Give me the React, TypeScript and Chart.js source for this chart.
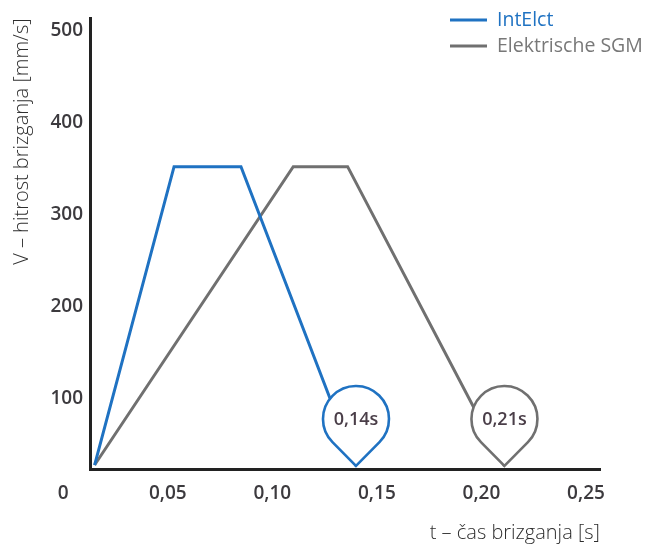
import { useEffect, useRef } from 'react';
import { Chart, registerables } from 'chart.js';

Chart.register(...registerables);

// ---- data ----
const seriesNames = ['IntElct', 'Elektrische SGM'];
const seriesColors = ['#1f72c2', '#707070'];
const legendTextColors = ['#1f72c2', '#787878'];
const intelctT = [0.015, 0.053, 0.085, 0.14];
const intelctV = [28, 352, 352, 27];
const sgmT = [0.015, 0.11, 0.136, 0.211];
const sgmV = [28, 352, 352, 27];
const pinLabels = ['0,14s', '0,21s'];
const xTickValues = [0, 0.05, 0.1, 0.15, 0.2, 0.25];
const xTickLabels = ['0', '0,05', '0,10', '0,15', '0,20', '0,25'];
const yTickValues = [100, 200, 300, 400, 500];
const xRange = [0.0128, 0.2567];
const yRange = [23.7, 513];
const xTitle = 't – čas brizganja [s]';
const yTitle = 'V – hitrost brizganja [mm/s]';

const FONT = '"Open Sans", sans-serif';

const pinPlugin = {
  id: 'pins',
  afterDatasetsDraw(chart: any) {
    const ctx = chart.ctx as CanvasRenderingContext2D;
    chart.data.datasets.forEach((ds: any, i: number) => {
      const meta = chart.getDatasetMeta(i);
      const pt = meta.data[meta.data.length - 1];
      const tipX = pt.x;
      const tipY = pt.y;
      const r = 33;
      const d = 47;
      const cx = tipX;
      const cy = tipY - d;
      const a = Math.acos(r / d);
      ctx.save();
      ctx.beginPath();
      ctx.moveTo(tipX, tipY);
      ctx.arc(cx, cy, r, Math.PI / 2 - a, Math.PI / 2 + a, true);
      ctx.closePath();
      ctx.fillStyle = '#ffffff';
      ctx.fill();
      ctx.lineWidth = 2.6;
      ctx.strokeStyle = ds.borderColor;
      ctx.stroke();
      ctx.fillStyle = '#4a3e48';
      ctx.font = `600 18px ${FONT}`;
      ctx.textAlign = 'center';
      ctx.textBaseline = 'middle';
      ctx.fillText(pinLabels[i], cx, cy + 1);
      ctx.restore();
    });
  },
};

const legendPlugin = {
  id: 'cornerLegend',
  afterDraw(chart: any) {
    const ctx = chart.ctx as CanvasRenderingContext2D;
    const x0 = chart.width - 195;
    chart.data.datasets.forEach((ds: any, i: number) => {
      const y = 20 + i * 26;
      ctx.save();
      ctx.strokeStyle = ds.borderColor;
      ctx.lineWidth = 3;
      ctx.beginPath();
      ctx.moveTo(x0, y);
      ctx.lineTo(x0 + 37, y);
      ctx.stroke();
      ctx.fillStyle = legendTextColors[i];
      ctx.font = `400 19.5px ${FONT}`;
      ctx.textAlign = 'left';
      ctx.textBaseline = 'middle';
      ctx.fillText(ds.label, x0 + 47, y);
      ctx.restore();
    });
  },
};

export default function App() {
  const ref = useRef<HTMLCanvasElement>(null);

  useEffect(() => {
    if (!ref.current) return;
    const toPts = (t: number[], v: number[]) => t.map((x, k) => ({ x, y: v[k] }));
    const chart = new Chart(ref.current, {
      type: 'line',
      data: {
        datasets: [
          {
            label: seriesNames[0],
            data: toPts(intelctT, intelctV),
            borderColor: seriesColors[0],
            borderWidth: 3,
            pointRadius: 0,
            tension: 0,
          },
          {
            label: seriesNames[1],
            data: toPts(sgmT, sgmV),
            borderColor: seriesColors[1],
            borderWidth: 3,
            pointRadius: 0,
            tension: 0,
          },
        ],
      },
      options: {
        animation: false,
        responsive: true,
        maintainAspectRatio: false,
        layout: { padding: { top: 15, right: 45, left: 0, bottom: 0 } },
        plugins: {
          legend: { display: false },
          tooltip: { enabled: false },
        },
        scales: {
          x: {
            type: 'linear',
            min: xRange[0],
            max: xRange[1],
            afterFit: (s: any) => {
              s.height = 77;
            },
            afterBuildTicks: (s: any) => {
              s.ticks = xTickValues.map((value) => ({ value }));
            },
            grid: { display: false, drawTicks: false },
            border: { display: true, color: '#222222', width: 3 },
            ticks: {
              autoSkip: false,
              maxRotation: 0,
              padding: 13,
              color: '#3c3a3e',
              font: { family: FONT, size: 19, weight: 600 },
              callback: (_v: any, idx: number) => xTickLabels[idx],
            },
            title: {
              display: true,
              text: xTitle,
              align: 'end',
              color: '#2e2e2e',
              padding: { top: 0, bottom: 1 },
              font: { family: FONT, size: 20, weight: 300 },
            },
          },
          y: {
            type: 'linear',
            min: yRange[0],
            max: yRange[1],
            afterFit: (s: any) => {
              s.width = 90;
            },
            afterBuildTicks: (s: any) => {
              s.ticks = yTickValues.map((value) => ({ value }));
            },
            grid: { display: false, drawTicks: false },
            border: { display: true, color: '#222222', width: 3 },
            ticks: {
              padding: 7,
              color: '#3c3a3e',
              font: { family: FONT, size: 19, weight: 600 },
              callback: (v: any) => String(v),
            },
            title: {
              display: true,
              text: yTitle,
              align: 'end',
              color: '#2e2e2e',
              padding: { top: 10, bottom: 0 },
              font: { family: FONT, size: 20, weight: 300 },
            },
          },
        },
      },
      plugins: [pinPlugin, legendPlugin],
    } as any);
    return () => chart.destroy();
  }, []);

  return (
    <div style={{ position: 'absolute', left: 0, top: 0, width: 645, height: 546, background: '#fff' }}>
      <canvas ref={ref} />
    </div>
  );
}
